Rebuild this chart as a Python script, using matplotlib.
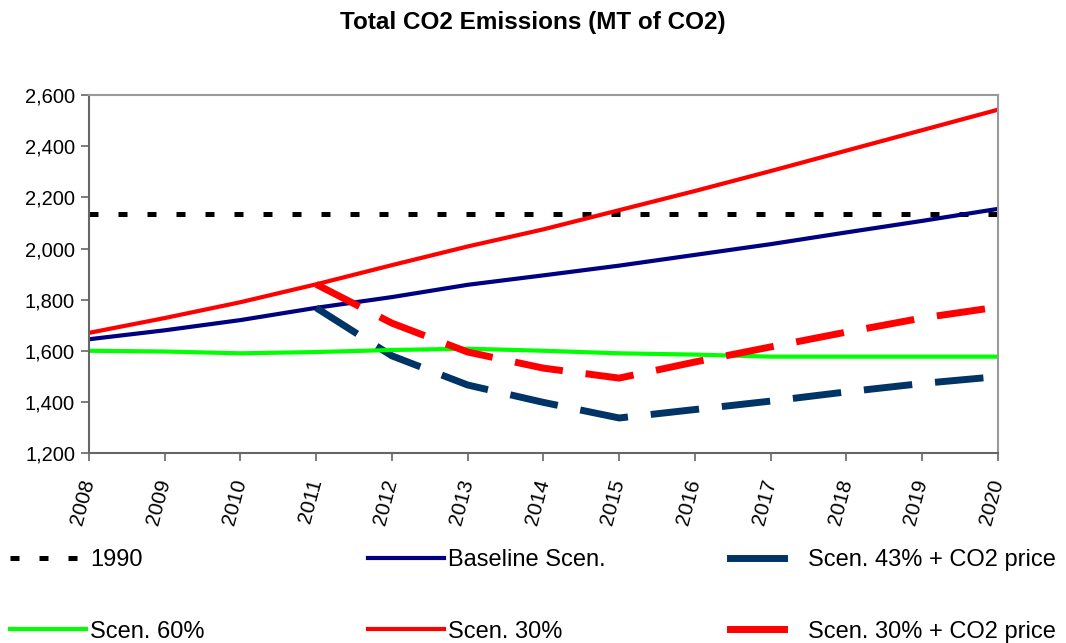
import matplotlib.pyplot as plt
from matplotlib.lines import Line2D

# data
years = list(range(2008, 2021))
level_1990 = [2135] * len(years)
baseline = [1645, 1680, 1720, 1768, 1810, 1858, 1895, 1933, 1975, 2017, 2063, 2108, 2155]
scen_30 = [1670, 1728, 1790, 1860, 1935, 2008, 2075, 2150, 2225, 2303, 2383, 2463, 2543]
scen_60 = [1600, 1597, 1590, 1595, 1603, 1608, 1600, 1590, 1585, 1577, 1577, 1577, 1577]
years_co2 = list(range(2011, 2021))
scen_43_co2 = [1768, 1580, 1466, 1398, 1337, 1370, 1403, 1439, 1472, 1499]
scen_30_co2 = [1860, 1708, 1595, 1532, 1493, 1556, 1615, 1673, 1728, 1771]

plt.rcParams['font.family'] = ['Liberation Sans', 'DejaVu Sans']

fig = plt.figure(figsize=(10.66, 6.43), dpi=100)
ax = fig.add_axes([0.0835, 0.2955, 0.8525, 0.5565])

l_1990, = ax.plot(years, level_1990, color="black", lw=3.6, dashes=(1.8, 4))
l_base, = ax.plot(years, baseline, color="#000080", lw=3)
ax.plot(years_co2, scen_43_co2, color="#003366", lw=5, dashes=(7, 3.3))
l_60, = ax.plot(years, scen_60, color="#00FF00", lw=3)
l_30, = ax.plot(years, scen_30, color="#FF0000", lw=3)
ax.plot(years_co2, scen_30_co2, color="#FF0000", lw=5, dashes=(7, 3.3))

ax.set_xlim(2008, 2020)
ax.set_ylim(1200, 2600)
ax.set_xticks(years)
ax.set_xticklabels([str(y) for y in years], rotation=75, ha="right", va="center",
                   rotation_mode="anchor", fontsize=15)
ax.set_yticks(range(1200, 2601, 200))
ax.set_yticklabels([f"{v:,}" for v in range(1200, 2601, 200)], fontsize=14.5)
ax.tick_params(axis="both", direction="out", length=6, width=1.2, color="#666666")
ax.tick_params(axis="y", pad=4)
ax.tick_params(axis="x", pad=13)
for side in ["top", "right"]:
    ax.spines[side].set_color("#999999")
    ax.spines[side].set_linewidth(1.5)
for side in ["left", "bottom"]:
    ax.spines[side].set_color("#666666")
    ax.spines[side].set_linewidth(1.5)

fig.suptitle("Total CO2 Emissions (MT of CO2)", fontsize=17.5, fontweight="bold",
             y=1 - 22 / 643, va="center")

# the dashed scenarios show a single solid block in the legend
h_43 = Line2D([], [], color="#003366", lw=5)
h_30co2 = Line2D([], [], color="#FF0000", lw=5)

legend_cols = [
    ([l_1990, l_60], ["1990", "Scen. 60%"], 10, 3.2, 0.2),
    ([l_base, l_30], ["Baseline Scen.", "Scen. 30%"], 368, 3.2, 0.2),
    ([h_43, h_30co2], ["Scen. 43% + CO2 price", "Scen. 30% + CO2 price"], 730, 2.3, 1.0),
]
for hs, ls, x_px, hlen, pad in legend_cols:
    fig.legend(hs, ls, loc="upper left", bbox_to_anchor=(x_px / 1066, 1 - 549 / 643),
               frameon=False, fontsize=17, handlelength=hlen, handletextpad=pad,
               labelspacing=2.1, borderpad=0, borderaxespad=0)

fig.savefig("out.png", dpi=100)
